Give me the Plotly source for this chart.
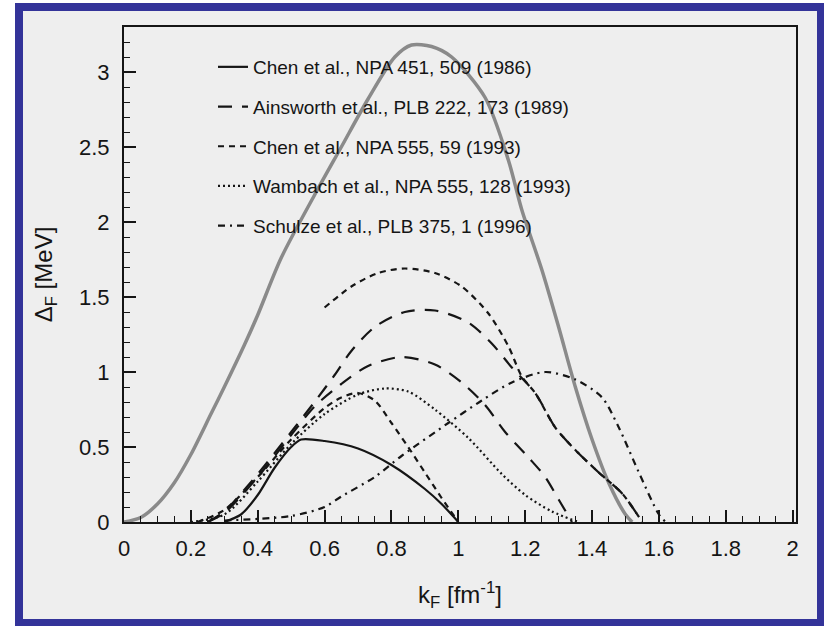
import plotly.graph_objects as go

# ---------------- data ----------------
legend_names = [
    "Chen et al., NPA 451, 509 (1986)",
    "Ainsworth et al., PLB 222, 173 (1989)",
    "Chen et al., NPA 555, 59 (1993)",
    "Wambach et al., NPA 555, 128 (1993)",
    "Schulze et al., PLB 375, 1 (1996)",
]

# gray thick curve (no legend entry)
bcs_k = [0.0, 0.05, 0.1, 0.15, 0.2, 0.26, 0.3, 0.36, 0.4, 0.47, 0.57, 0.65, 0.73, 0.81, 0.86,
         0.92, 0.98, 1.08, 1.15, 1.19, 1.25, 1.3, 1.35, 1.4, 1.45, 1.5, 1.52]
bcs_d = [0.0, 0.03, 0.12, 0.26, 0.45, 0.72, 0.9, 1.18, 1.38, 1.76, 2.18, 2.5, 2.82, 3.1, 3.18,
         3.17, 3.1, 2.83, 2.41, 2.08, 1.68, 1.3, 0.9, 0.55, 0.26, 0.05, 0.0]

chen86_k = [0.3, 0.35, 0.4, 0.45, 0.5, 0.53, 0.6, 0.7, 0.8, 0.9, 0.95, 1.0]
chen86_d = [0.0, 0.05, 0.18, 0.36, 0.5, 0.55, 0.54, 0.49, 0.38, 0.22, 0.12, 0.0]

ains_a_k = [0.25, 0.3, 0.4, 0.5, 0.57, 0.63, 0.68, 0.75, 0.84, 0.93, 1.03, 1.1, 1.16, 1.23,
            1.29, 1.35, 1.42, 1.49, 1.55]
ains_a_d = [0.0, 0.07, 0.32, 0.6, 0.8, 0.98, 1.14, 1.3, 1.4, 1.41, 1.33, 1.19, 1.03, 0.86,
            0.63, 0.48, 0.33, 0.19, 0.0]

ains_b_k = [0.25, 0.3, 0.4, 0.5, 0.57, 0.65, 0.73, 0.83, 0.93, 1.01, 1.08, 1.14, 1.21, 1.26,
            1.3, 1.34]
ains_b_d = [0.0, 0.06, 0.3, 0.58, 0.77, 0.92, 1.04, 1.1, 1.05, 0.93, 0.78, 0.6, 0.43, 0.3,
            0.15, 0.0]

chen93_a_k = [0.6, 0.68, 0.76, 0.84, 0.93, 1.01, 1.09, 1.15, 1.19, 1.23, 1.29, 1.35, 1.42,
              1.49, 1.55]
chen93_a_d = [1.43, 1.57, 1.66, 1.69, 1.66, 1.57, 1.39, 1.17, 0.97, 0.86, 0.63, 0.48, 0.33,
              0.19, 0.0]

chen93_b_k = [0.22, 0.3, 0.4, 0.5, 0.6, 0.65, 0.7, 0.75, 0.8, 0.85, 0.9, 0.95, 1.0]
chen93_b_d = [0.0, 0.08, 0.3, 0.55, 0.76, 0.83, 0.86, 0.81, 0.66, 0.5, 0.33, 0.16, 0.0]

wamb_k = [0.2, 0.3, 0.4, 0.5, 0.6, 0.7, 0.78, 0.85, 0.93, 1.03, 1.13, 1.2, 1.28, 1.36]
wamb_d = [0.0, 0.05, 0.27, 0.52, 0.72, 0.85, 0.89, 0.87, 0.75, 0.56, 0.32, 0.18, 0.07, 0.0]

schu_k = [0.3, 0.5, 0.6, 0.65, 0.75, 0.83, 0.97, 1.07, 1.16, 1.26, 1.35, 1.43, 1.48, 1.54,
          1.6, 1.62]
schu_d = [0.01, 0.04, 0.1, 0.17, 0.3, 0.44, 0.66, 0.81, 0.93, 1.0, 0.95, 0.83, 0.63, 0.33,
          0.05, 0.0]

x_ticks = [0, 0.2, 0.4, 0.6, 0.8, 1, 1.2, 1.4, 1.6, 1.8, 2]
x_ticklabels = ["0", "0.2", "0.4", "0.6", "0.8", "1", "1.2", "1.4", "1.6", "1.8", "2"]
y_ticks = [0, 0.5, 1, 1.5, 2, 2.5, 3]
y_ticklabels = ["0", "0.5", "1", "1.5", "2", "2.5", "3"]

# ---------------- figure ----------------
W, H = 824, 626
L, R, T, B = 124, 796, 27, 522   # plot-area pixel box


def px(x):
    return (x - L) / (R - L)


def py(y):
    return (B - y) / (B - T)


INK = "#151515"
FONT = "Liberation Sans, Arial, sans-serif"
fig = go.Figure()

fig.add_trace(go.Scatter(x=bcs_k, y=bcs_d, mode="lines", showlegend=False,
                         line=dict(color="#8a8a8a", width=3.5, shape="spline", smoothing=0.8),
                         hoverinfo="skip"))

styles = [
    dict(color=INK, width=2.2, dash="solid"),
    dict(color=INK, width=2.2, dash="14px,10px"),
    dict(color=INK, width=2.2, dash="6px,5px"),
    dict(color=INK, width=2.2, dash="2px,3px"),
    dict(color=INK, width=2.2, dash="7px,5px,2px,5px"),
]

series = [
    (0, chen86_k, chen86_d, True),
    (1, ains_a_k, ains_a_d, True),
    (1, ains_b_k, ains_b_d, False),
    (2, chen93_a_k, chen93_a_d, True),
    (2, chen93_b_k, chen93_b_d, False),
    (3, wamb_k, wamb_d, True),
    (4, schu_k, schu_d, True),
]

for idx, xs, ys, show in series:
    st = styles[idx]
    fig.add_trace(go.Scatter(
        x=xs, y=ys, mode="lines", name=legend_names[idx],
        legendgroup=legend_names[idx], showlegend=show,
        line=dict(color=st["color"], width=st["width"], dash=st["dash"],
                  shape="spline", smoothing=0.8)))

# blue frame + gray page
fig.add_shape(type="rect", xref="paper", yref="paper", layer="below",
              x0=px(15), x1=px(830), y0=py(632), y1=py(3),
              fillcolor="#333399", line=dict(width=0))
fig.add_shape(type="rect", xref="paper", yref="paper", layer="below",
              x0=px(23), x1=px(817), y0=py(619), y1=py(11),
              fillcolor="#eeeeee", line=dict(width=0))

axis_common = dict(
    showgrid=False, zeroline=False, showline=True, linecolor=INK, linewidth=2,
    mirror=True, ticks="inside", tickcolor=INK, tickwidth=1.5, ticklen=12,
    tickfont=dict(family=FONT, size=22, color=INK),
)

fig.update_layout(
    width=W, height=H,
    margin=dict(l=L, r=W - R, t=T, b=H - B, pad=0),
    paper_bgcolor="white", plot_bgcolor="rgba(0,0,0,0)",
    font=dict(family=FONT, size=20, color=INK),
    xaxis=dict(range=[0, 2.01], tickvals=x_ticks, ticktext=x_ticklabels,
               minor=dict(dtick=0.05, ticks="inside", ticklen=6, tickcolor=INK, tickwidth=1.2),
               title=dict(text="k<sub>F</sub> [fm<sup>-1</sup>]",
                          font=dict(family=FONT, size=24, color=INK), standoff=26),
               ticklabelstandoff=6,
               **axis_common),
    yaxis=dict(range=[0, 3.3], tickvals=y_ticks, ticktext=y_ticklabels,
               minor=dict(dtick=0.1, ticks="inside", ticklen=6, tickcolor=INK, tickwidth=1.2),
               title=dict(text="Δ<sub>F</sub> [MeV]",
                          font=dict(family=FONT, size=24, color=INK), standoff=20),
               ticklabelstandoff=8,
               **axis_common),
    legend=dict(x=px(213), y=py(48), xanchor="left", yanchor="top",
                bgcolor="rgba(0,0,0,0)", borderwidth=0,
                font=dict(size=19, color=INK, family=FONT),
                traceorder="grouped", tracegroupgap=12, itemwidth=30),
)

fig.write_html("out.html")
